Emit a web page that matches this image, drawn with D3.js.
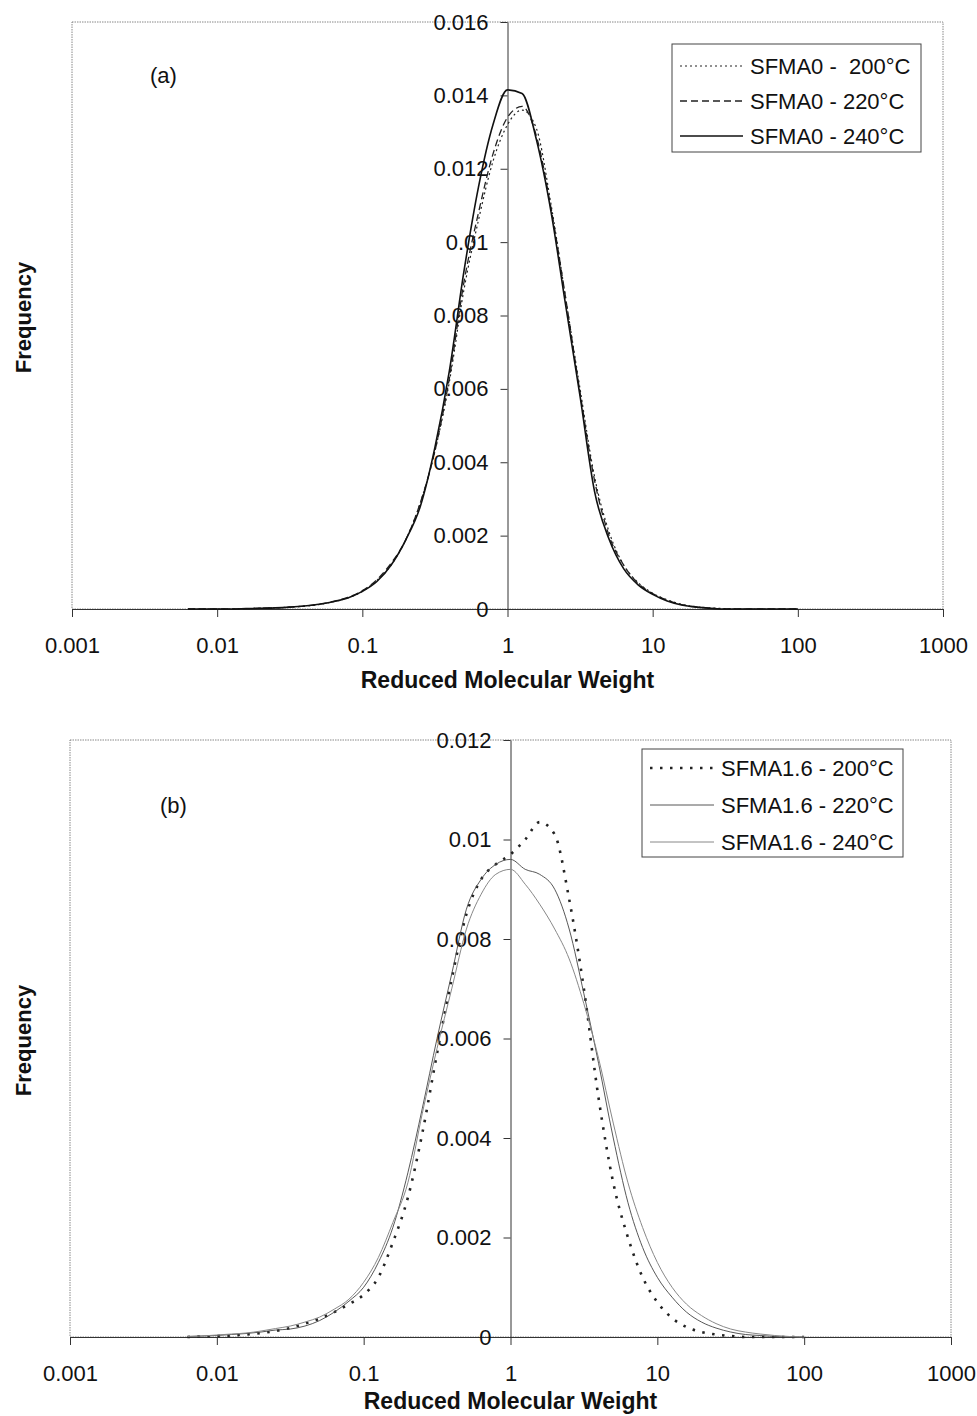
<!DOCTYPE html>
<html>
<head>
<meta charset="utf-8">
<script src="https://d3js.org/d3.v7.min.js"></script>
<style>
  body { margin: 0; background: white; }
  text { font-family: "Liberation Sans", Arial, sans-serif; fill: #111; }
</style>
</head>
<body>
<svg id="chart" width="977" height="1416"></svg>
<script>
// reduced molecular weight grid (log spaced)
const mw = [0.0063,0.0079,0.01,0.0126,0.0158,0.02,0.0251,0.0316,0.0398,0.0501,0.0631,0.0794,
  0.1,0.126,0.158,0.2,0.251,0.316,0.398,0.501,0.631,0.794,1,1.26,1.58,2,2.51,3.16,3.98,5.01,
  6.31,7.94,10,12.6,15.8,20,25.1,31.6,39.8,50.1,63.1,79.4,100];

// panel (a) SFMA0
const freqA200 = [0,0,0,0,0.00001,0.00002,0.00003,0.00005,0.00008,0.00012,0.0002,0.0003,
  0.00048,0.00078,0.0012,0.0019,0.0029,0.0043,0.0062,0.0087,0.0106,0.0122,0.0132,0.0136,0.0131,
  0.0110,0.0085,0.0060,0.0036,0.0021,0.0012,0.00072,0.00043,0.00025,0.00013,0.00006,0.00003,
  0.00001,0,0,0,0,0];
const freqA220 = [0,0,0,0,0.00001,0.00002,0.00003,0.00005,0.00008,0.00013,0.00021,0.00032,
  0.0005,0.0008,0.00125,0.0019,0.0029,0.0043,0.0063,0.0089,0.0108,0.0124,0.0134,0.0137,0.0129,
  0.0109,0.0085,0.0059,0.0035,0.0020,0.0012,0.0007,0.00042,0.00024,0.00012,0.00006,0.00002,
  0,0,0,0,0,0];
const freqA240 = [0,0,0,0,0.00001,0.00002,0.00003,0.00005,0.00008,0.00013,0.0002,0.0003,
  0.00048,0.00075,0.0012,0.0019,0.0028,0.0044,0.0065,0.0092,0.0115,0.0132,0.01415,0.01405,0.0128,
  0.0108,0.0083,0.0058,0.0032,0.0019,0.0011,0.00066,0.0004,0.00022,0.00011,0.00005,0.00002,
  0,0,0,0,0,0];

// panel (b) SFMA1.6
const freqB200 = [0,0.00001,0.00002,0.00003,0.00005,0.00008,0.00012,0.00018,0.00027,0.00037,0.0005,0.00066,
  0.00085,0.0012,0.0019,0.0028,0.0041,0.0057,0.0072,0.0085,0.0092,0.0095,0.0097,0.0100,0.01035,
  0.0101,0.0088,0.0070,0.0048,0.0031,0.0020,0.0012,0.0007,0.00038,0.0002,0.0001,0.00005,
  0.00002,0,0,0,0,0];
const freqB220 = [0.00001,0.00002,0.00003,0.00005,0.00007,0.0001,0.00014,0.00016,0.00022,0.00033,0.0005,0.00072,
  0.001,0.0015,0.0022,0.0033,0.0046,0.0060,0.0073,0.0086,0.0092,0.0095,0.0096,0.0094,0.0093,
  0.0090,0.0082,0.0069,0.0055,0.0040,0.0027,0.0018,0.0012,0.0008,0.0005,0.0003,0.00018,
  0.0001,0.00005,0.00003,0.00001,0,0];
const freqB240 = [0.00001,0.00002,0.00004,0.00006,0.00008,0.00012,0.00017,0.00022,0.0003,0.0004,0.00056,0.00076,
  0.0011,0.0016,0.0023,0.0031,0.0045,0.0058,0.0070,0.0082,0.0089,0.0093,0.0094,0.0091,0.0087,
  0.0082,0.0076,0.0067,0.0056,0.0043,0.0031,0.0022,0.0015,0.001,0.00066,0.00043,0.00027,
  0.00016,0.0001,0.00006,0.00003,0.00001,0];

const xTicks = [0.001,0.01,0.1,1,10,100,1000];
const yTicksA = [0,0.002,0.004,0.006,0.008,0.01,0.012,0.014,0.016];
const yTicksB = [0,0.002,0.004,0.006,0.008,0.01,0.012];
const namesA = ["SFMA0 -  200°C","SFMA0 - 220°C","SFMA0 - 240°C"];
const namesB = ["SFMA1.6 - 200°C","SFMA1.6 - 220°C","SFMA1.6 - 240°C"];

const svg = d3.select("#chart");

function drawPanel(p) {
  var x = d3.scaleLog().domain([0.001,1000]).range([p.left,p.right]);
  var y = d3.scaleLinear().domain([0,p.yMax]).range([p.bottom,p.top]);
  var g = svg.append("g");

  // plot area border
  g.append("rect")
    .attr("x",p.left).attr("y",p.top)
    .attr("width",p.right-p.left).attr("height",p.bottom-p.top)
    .attr("fill","none").attr("stroke","#888").attr("stroke-width",1)
    .attr("stroke-dasharray","1.5,1");

  // x axis
  var xa = g.append("g")
    .attr("transform","translate(0,"+p.bottom+")")
    .call(d3.axisBottom(x).tickValues(xTicks).tickFormat(d3.format("~g"))
      .tickSize(8).tickSizeOuter(0).tickPadding(20));
  // y axis at x = 1
  var ya = g.append("g")
    .attr("transform","translate("+x(1)+",0)")
    .call(d3.axisLeft(y).tickValues(p.yTicks).tickFormat(d3.format("~g"))
      .tickSize(7).tickSizeOuter(0).tickPadding(12));
  [xa,ya].forEach(function(a) {
    a.selectAll("path,line").attr("stroke","#333").attr("stroke-width",1);
    a.selectAll("text").style("font-size","22px").attr("fill","#111")
      .style("font-family","'Liberation Sans', Arial, sans-serif");
  });

  // curves
  var line = d3.line()
    .x(function(d) { return x(d[0]); })
    .y(function(d) { return y(d[1]); })
    .curve(d3.curveMonotoneX);
  p.series.forEach(function(s) {
    g.append("path")
      .datum(mw.map(function(m,i) { return [m, s.values[i]]; }))
      .attr("d",line)
      .attr("fill","none")
      .attr("stroke",s.color)
      .attr("stroke-width",s.width)
      .attr("stroke-dasharray",s.dash);
  });

  // legend
  var lg = p.legend;
  g.append("rect")
    .attr("x",lg.x).attr("y",lg.y).attr("width",lg.w).attr("height",lg.h)
    .attr("fill","white").attr("stroke","#444").attr("stroke-width",1);
  p.series.forEach(function(s,i) {
    var ry = lg.rows[i];
    g.append("line")
      .attr("x1",lg.x1).attr("x2",lg.x2).attr("y1",ry).attr("y2",ry)
      .attr("stroke",s.color).attr("stroke-width",s.width)
      .attr("stroke-dasharray",s.dash);
    g.append("text")
      .attr("x",lg.tx).attr("y",ry)
      .attr("dominant-baseline","central")
      .style("font-size","22px").style("white-space","pre")
      .text(s.name);
  });

  // panel label
  g.append("text").attr("x",p.labelX).attr("y",p.labelY)
    .style("font-size","22px").text(p.label);

  // axis titles
  g.append("text")
    .attr("x",x(1)).attr("y",p.bottom+p.titleGap)
    .attr("text-anchor","middle")
    .style("font-size","23px").style("font-weight","bold")
    .text("Reduced Molecular Weight");
  g.append("text")
    .attr("transform","translate(23,"+((p.top+p.bottom)/2+2)+") rotate(-90)")
    .attr("text-anchor","middle").attr("dominant-baseline","central")
    .style("font-size","22px").style("font-weight","bold")
    .text("Frequency");
}

drawPanel({
  left:72, right:943, top:22, bottom:609, yMax:0.016, yTicks:yTicksA,
  label:"(a)", labelX:150, labelY:83, titleGap:79,
  legend:{x:672, y:44, w:249, h:108, rows:[66,101,136], x1:680, x2:743, tx:750},
  series:[
    {name:namesA[0], values:freqA200, color:"#222", width:1.2, dash:"2,3"},
    {name:namesA[1], values:freqA220, color:"#222", width:1.3, dash:"7,4"},
    {name:namesA[2], values:freqA240, color:"#111", width:1.6, dash:null}
  ]
});

drawPanel({
  left:70, right:951, top:740, bottom:1337, yMax:0.012, yTicks:yTicksB,
  label:"(b)", labelX:160, labelY:813, titleGap:72,
  legend:{x:642, y:749, w:261, h:108, rows:[768,805,842], x1:650, x2:714, tx:721},
  series:[
    {name:namesB[0], values:freqB200, color:"#222", width:2.6, dash:"2.5,7.5"},
    {name:namesB[1], values:freqB220, color:"#444", width:0.9, dash:null},
    {name:namesB[2], values:freqB240, color:"#888", width:1, dash:null}
  ]
});
</script>
</body>
</html>
